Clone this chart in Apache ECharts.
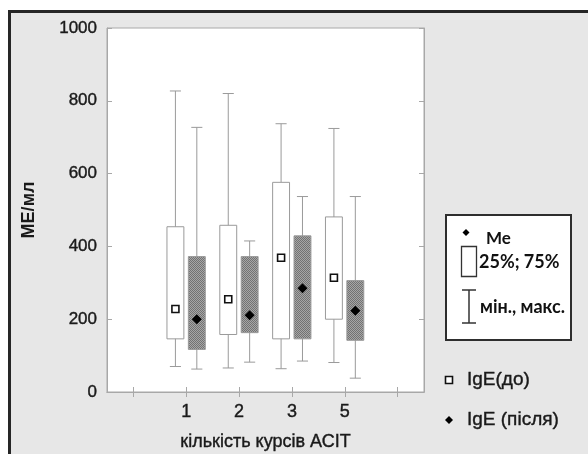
<!DOCTYPE html>
<html lang="uk">
<head>
<meta charset="UTF-8" />
<title>IgE</title>
<style>
  html, body { margin: 0; padding: 0; background: #fff; }
  #main { width: 588px; height: 454px; }
</style>
</head>
<body>
<script src="https://cdn.jsdelivr.net/npm/echarts@6/dist/echarts.min.js"></script>
<div id="main"></div>
<script>
const courses = ['', '1', '2', '3', '5', '']
const yTicks = [0, 200, 400, 600, 800, 1000]
// [min, q1, median, q3, max] for courses 1, 2, 3, 5
const igeBefore = [
  [70, 146, 228, 454, 827],
  [66, 158, 255, 458, 820],
  [64, 146, 369, 576, 737],
  [81, 200, 314, 481, 724]
]
const igeAfter = [
  [63, 117, 200, 372, 727],
  [82, 163, 211, 372, 415],
  [85, 146, 285, 429, 537],
  [38, 142, 223, 306, 537]
]

// stippled fill for the "after" boxes
const tex = document.createElement('canvas')
tex.width = tex.height = 2
const g = tex.getContext('2d')
g.fillStyle = '#a6a6a6'
g.fillRect(0, 0, 2, 2)
g.fillStyle = '#727272'
g.fillRect(0, 0, 1, 1)
g.fillRect(1, 1, 1, 1)
const stipple = { image: tex, repeat: 'repeat' }

const squareMark = (x, y) => ({
  type: 'rect',
  shape: { x: x - 3.5, y: y - 3.5, width: 7, height: 7 },
  style: { fill: '#fff', stroke: '#111', lineWidth: 1.6 }
})
const diamondMark = (x, y) => ({
  type: 'polygon',
  shape: { points: [[x, y - 5], [x + 5, y], [x, y + 5], [x - 5, y]] },
  style: { fill: '#000' }
})

function boxRenderer(shift, fill, marker) {
  return function (params, api) {
    const band = api.size([1, 0])[0]
    const x = api.coord([api.value(0), 0])[0] + shift * band
    const y = (k) => api.coord([api.value(0), api.value(k)])[1]
    const w = band * 0.32
    const cap = band * 0.21
    const line = { stroke: '#9a9a9a', lineWidth: 1 }
    return {
      type: 'group',
      children: [
        { type: 'line', shape: { x1: x, y1: y(1), x2: x, y2: y(5) }, style: line },
        { type: 'line', shape: { x1: x - cap / 2, y1: y(1), x2: x + cap / 2, y2: y(1) }, style: line },
        { type: 'line', shape: { x1: x - cap / 2, y1: y(5), x2: x + cap / 2, y2: y(5) }, style: line },
        {
          type: 'rect',
          shape: { x: x - w / 2, y: y(4), width: w, height: y(2) - y(4) },
          style: { fill, stroke: '#9a9a9a', lineWidth: 1 }
        },
        marker(x, y(3))
      ]
    }
  }
}

const font = 'Liberation Sans, Arial, sans-serif'
const legendFont = 'Lato, Open Sans, sans-serif'
const ink = '#1a1a1a'
const heavy = { color: ink, fontFamily: font, textBorderColor: ink, textBorderWidth: 0.4 }
const gridLine = { lineStyle: { color: '#a8a8a8', width: 1 } }
const innerTick = { show: true, inside: true, length: 5, lineStyle: { color: '#a8a8a8' } }

const chart = echarts.init(document.getElementById('main'))
chart.setOption({
  backgroundColor: '#fff',
  animation: false,
  grid: {
    left: 107, top: 28, right: 164, bottom: 62,
    outerBoundsMode: 'none',
    containLabel: false,
    show: true, backgroundColor: '#fff', borderColor: '#a8a8a8', borderWidth: 1
  },
  xAxis: [
    {
      type: 'category',
      data: courses,
      axisLine: gridLine,
      axisTick: { ...innerTick, alignWithLabel: true },
      axisLabel: { ...heavy, fontSize: 18, margin: 11 },
      name: 'кількість курсів АСІТ',
      nameLocation: 'middle',
      nameGap: 41,
      nameTextStyle: { ...heavy, fontSize: 18 }
    },
    {
      type: 'category',
      position: 'top',
      data: courses,
      axisLine: gridLine,
      axisTick: { ...innerTick, alignWithLabel: true },
      axisLabel: { show: false }
    }
  ],
  yAxis: [
    {
      type: 'value',
      min: yTicks[0],
      max: yTicks[yTicks.length - 1],
      interval: yTicks[1] - yTicks[0],
      splitLine: { show: false },
      axisLine: { show: true, ...gridLine },
      axisTick: innerTick,
      axisLabel: { ...heavy, fontSize: 17, margin: 10, formatter: (v) => String(v) },
      name: 'МЕ/мл',
      nameLocation: 'middle',
      nameGap: 69,
      nameTextStyle: { color: ink, fontSize: 18, fontFamily: font, fontWeight: 'bold' }
    },
    {
      type: 'value',
      position: 'right',
      min: yTicks[0],
      max: yTicks[yTicks.length - 1],
      interval: yTicks[1] - yTicks[0],
      splitLine: { show: false },
      axisLine: { show: true, ...gridLine },
      axisTick: innerTick,
      axisLabel: { show: false }
    }
  ],
  series: [
    {
      name: 'IgE(до)',
      type: 'custom',
      renderItem: boxRenderer(-0.205, '#fff', squareMark),
      encode: { x: 0, y: [1, 2, 3, 4, 5] },
      data: igeBefore.map((d, i) => [i + 1, ...d])
    },
    {
      name: 'IgE (після)',
      type: 'custom',
      renderItem: boxRenderer(0.2, stipple, diamondMark),
      encode: { x: 0, y: [1, 2, 3, 4, 5] },
      data: igeAfter.map((d, i) => [i + 1, ...d])
    }
  ],
  graphic: [
    {
      type: 'rect', z: -10, silent: true,
      shape: { x: 9.5, y: 11.5, width: 620, height: 500 },
      style: { fill: '#e7e7e7', stroke: '#262626', lineWidth: 3 }
    },
    {
      type: 'group',
      children: [
        { type: 'rect', shape: { x: 446, y: 215, width: 125, height: 125 }, style: { fill: '#fff', stroke: '#2e2e2e', lineWidth: 2 } },
        { type: 'polygon', shape: { points: [[466, 229], [469.5, 232.5], [466, 236], [462.5, 232.5]] }, style: { fill: '#000' } },
        { type: 'text', x: 486, y: 239, style: { text: 'Me', font: 'bold 17px ' + legendFont, fill: '#111', verticalAlign: 'middle' } },
        { type: 'rect', shape: { x: 461.5, y: 246.5, width: 15, height: 30 }, style: { fill: '#fff', stroke: '#333', lineWidth: 1.3 } },
        { type: 'text', x: 479, y: 262, style: { text: '25%; 75%', font: 'bold 18px ' + legendFont, fill: '#111', verticalAlign: 'middle' } },
        { type: 'line', shape: { x1: 469, y1: 290, x2: 469, y2: 323 }, style: { stroke: '#333', lineWidth: 1.5 } },
        { type: 'line', shape: { x1: 462, y1: 290, x2: 476, y2: 290 }, style: { stroke: '#333', lineWidth: 1.5 } },
        { type: 'line', shape: { x1: 462, y1: 323, x2: 476, y2: 323 }, style: { stroke: '#333', lineWidth: 1.5 } },
        { type: 'text', x: 480, y: 307, style: { text: 'мін., макс.', font: 'bold 18px ' + legendFont, fill: '#111', verticalAlign: 'middle' } },
        { type: 'rect', shape: { x: 445.5, y: 376.5, width: 7, height: 7 }, style: { fill: '#fff', stroke: '#111', lineWidth: 1.6 } },
        { type: 'text', x: 467, y: 380, style: { text: 'IgE(до)', font: '19px ' + font, fill: ink, stroke: ink, lineWidth: 0.4, verticalAlign: 'middle' } },
        { type: 'polygon', shape: { points: [[449, 416], [453, 420], [449, 424], [445, 420]] }, style: { fill: '#000' } },
        { type: 'text', x: 467, y: 420, style: { text: 'IgE (після)', font: '19px ' + font, fill: ink, stroke: ink, lineWidth: 0.4, verticalAlign: 'middle' } }
      ]
    }
  ]
})
</script>
</body>
</html>
